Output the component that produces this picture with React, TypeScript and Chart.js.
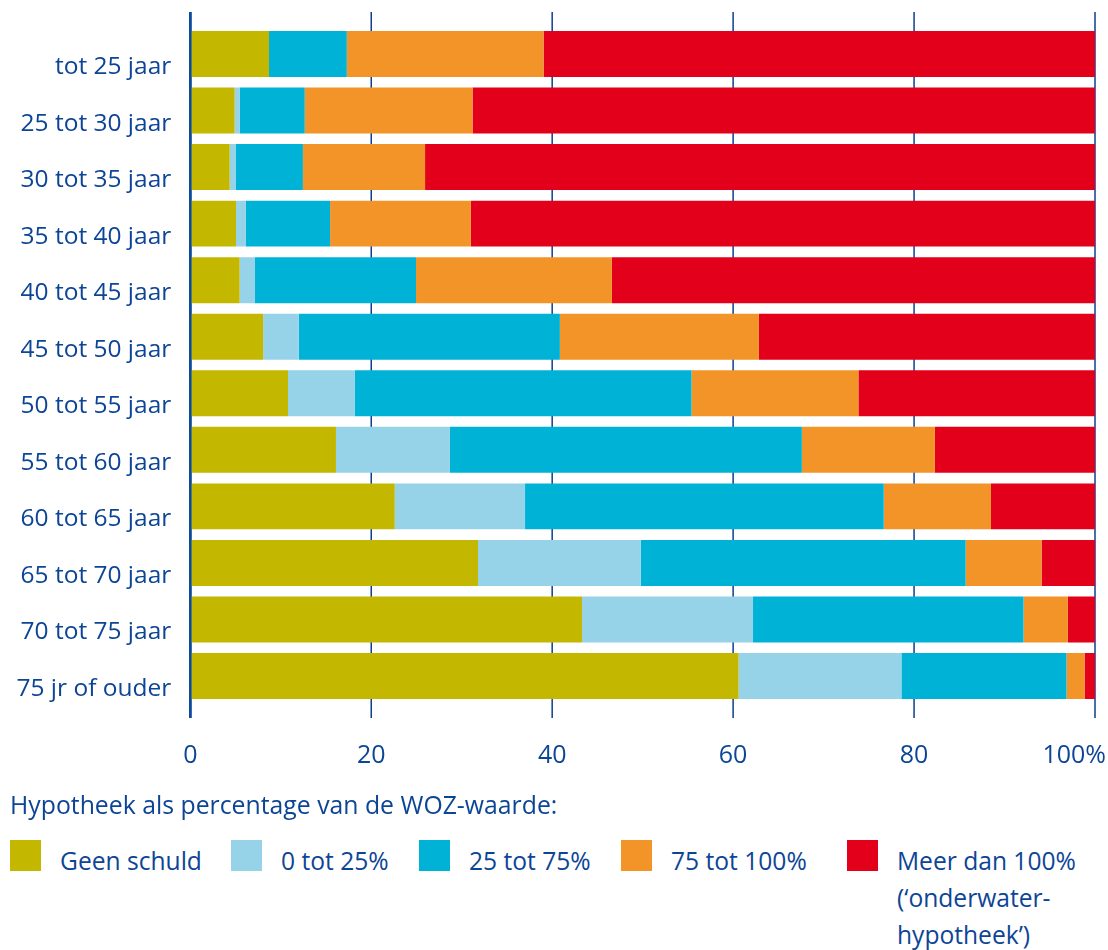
import React, { useEffect, useRef } from "react";
import { Chart, registerables } from "chart.js";

Chart.register(...registerables);

const categories = [
  "tot 25 jaar",
  "25 tot 30 jaar",
  "30 tot 35 jaar",
  "35 tot 40 jaar",
  "40 tot 45 jaar",
  "45 tot 50 jaar",
  "50 tot 55 jaar",
  "55 tot 60 jaar",
  "60 tot 65 jaar",
  "65 tot 70 jaar",
  "70 tot 75 jaar",
  "75 jr of ouder",
];

const geenSchuld = [8.7, 4.9, 4.35, 5.05, 5.45, 8.05, 10.8, 16.1, 22.6, 31.8, 43.3, 60.6];
const tot25 = [0, 0.55, 0.7, 1.1, 1.7, 3.95, 7.4, 12.6, 14.4, 18.0, 18.9, 18.0];
const tot75 = [8.6, 7.2, 7.4, 9.3, 17.8, 28.85, 37.2, 38.9, 39.65, 35.9, 29.9, 18.25];
const tot100 = [21.75, 18.55, 13.5, 15.55, 21.65, 22.0, 18.45, 14.7, 11.85, 8.4, 4.9, 2.0];
const meerDan100 = [60.95, 68.8, 74.05, 69.0, 53.4, 37.15, 26.15, 17.7, 11.5, 5.9, 3.0, 1.15];

const xTicks = [0, 20, 40, 60, 80, 100];
const xTickLabels = ["0", "20", "40", "60", "80", "100%"];

const seriesNames = ["Geen schuld", "0 tot 25%", "25 tot 75%", "75 tot 100%", "Meer dan 100%"];
const legendTitle = "Hypotheek als percentage van de WOZ-waarde:";
const lastLegendLines = ["Meer dan 100%", "(\u2018onderwater-", "hypotheek\u2019)"];

const COLORS = ["#c3b700", "#97d3e8", "#00b3d6", "#f39428", "#e2001a"];
const TEXT = "#0d4596";
const GRID = "#0b3f8f";
const FONT = "'Open Sans', sans-serif";

const gridPlugin = {
  id: "customGrid",
  beforeDatasetsDraw(chart: any) {
    const ctx = chart.ctx;
    const xs = chart.scales.x;
    const top = 12;
    const bottom = 718;
    ctx.save();
    xTicks.forEach((v) => {
      const px = xs.getPixelForValue(v);
      ctx.beginPath();
      ctx.strokeStyle = GRID;
      ctx.lineWidth = v === 0 ? 2.5 : 1.5;
      ctx.moveTo(px, top);
      ctx.lineTo(px, bottom);
      ctx.stroke();
    });
    ctx.restore();
  },
  afterDatasetsDraw(chart: any) {
    const ctx = chart.ctx;
    const xs = chart.scales.x;
    ctx.save();
    const px0 = xs.getPixelForValue(0);
    ctx.beginPath();
    ctx.strokeStyle = "#0a4aa0";
    ctx.lineWidth = 2.5;
    ctx.moveTo(px0, 12);
    ctx.lineTo(px0, 718);
    ctx.stroke();
    ctx.font = `25px ${FONT}`;
    ctx.fillStyle = TEXT;
    ctx.textBaseline = "middle";
    ctx.textAlign = "center";
    const w = chart.width;
    xTicks.forEach((v, i) => {
      let px = xs.getPixelForValue(v);
      const label = xTickLabels[i];
      const tw = ctx.measureText(label).width;
      if (px + tw / 2 > w - 2) px = w - 2 - tw / 2;
      ctx.fillText(label, px, 756);
    });
    ctx.restore();
  },
};

export default function App() {
  const ref = useRef<HTMLCanvasElement>(null);

  useEffect(() => {
    if (!ref.current) return;
    const data = [geenSchuld, tot25, tot75, tot100, meerDan100];
    const chart = new Chart(ref.current, {
      type: "bar",
      data: {
        labels: categories,
        datasets: data.map((d, i) => ({
          label: seriesNames[i],
          data: d,
          backgroundColor: COLORS[i],
          borderWidth: 0,
          categoryPercentage: 1,
          barPercentage: 0.813,
        })),
      },
      options: {
        indexAxis: "y",
        animation: false,
        responsive: false,
        maintainAspectRatio: false,
        layout: { padding: { top: 25.7, bottom: 790 - 704.3, left: 0, right: 13 } },
        plugins: {
          legend: { display: false },
          tooltip: { enabled: false },
        },
        scales: {
          x: {
            type: "linear",
            stacked: true,
            min: 0,
            max: 100,
            display: false,
          },
          y: {
            stacked: true,
            grid: { display: false, drawTicks: false },
            border: { display: false },
            ticks: {
              color: TEXT,
              font: { family: FONT, size: 24.5 },
              padding: 19,
              labelOffset: 13,
            },
            afterFit: (scale: any) => {
              scale.width = 190.3;
              scale.paddingTop = 0;
              scale.paddingBottom = 0;
            },
          },
        },
      },
      plugins: [gridPlugin],
    });
    return () => chart.destroy();
  }, []);

  const legendPos = [10, 231, 419, 621, 847];

  return (
    <div
      style={{
        position: "absolute",
        left: 0,
        top: 0,
        width: 1108,
        height: 950,
        background: "#fff",
        fontFamily: FONT,
        color: TEXT,
      }}
    >
      <canvas ref={ref} width={1108} height={790} style={{ display: "block", width: 1108, height: 790 }} />
      <div
        style={{
          position: "absolute",
          left: 10,
          top: 786,
          fontSize: 24.8,
          lineHeight: "36px",
          whiteSpace: "nowrap",
        }}
      >
        {legendTitle}
      </div>
      {seriesNames.map((name, i) => (
        <div key={name}>
          <div
            style={{
              position: "absolute",
              left: legendPos[i],
              top: 840,
              width: 31,
              height: 31,
              background: COLORS[i],
            }}
          />
          <div
            style={{
              position: "absolute",
              left: legendPos[i] + 50,
              top: 842,
              fontSize: 24.6,
              lineHeight: "37px",
              whiteSpace: "nowrap",
            }}
          >
            {i === 4
              ? lastLegendLines.map((l) => <div key={l}>{l}</div>)
              : name}
          </div>
        </div>
      ))}
    </div>
  );
}
